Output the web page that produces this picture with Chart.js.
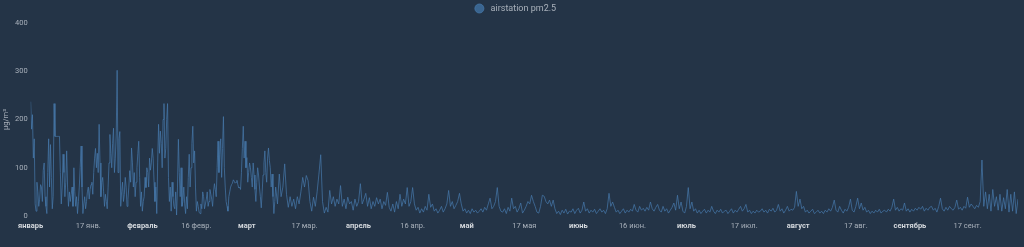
<!DOCTYPE html>
<html>
<head>
<meta charset="utf-8">
<script src="https://cdn.jsdelivr.net/npm/chart.js@4.4.1/dist/chart.umd.min.js"></script>
<style>
  html, body { margin: 0; padding: 0; background: #243447; }
  #wrap { width: 1024px; height: 247px; position: relative; }
  canvas { display: block; }
</style>
</head>
<body>
<div id="wrap"><canvas id="c" width="1024" height="247"></canvas></div>
<script>
const seriesName = 'airstation pm2.5';
const unitLabel = 'µg/m³';

// 1 Jan – 8 Mar (leap year): one reading every quarter day, starting at day 0
const denseStepDays = 0.25;
const pm25Winter = [
237,180,210,120,160,25,10,70,50,20,35,65,60,30,95,110,40,20,5,90,
160,60,148,80,15,40,233,165,165,165,165,165,165,90,25,60,128,90,40,70,
135,60,20,50,30,45,60,20,100,50,20,40,5,30,60,100,145,60,5,25,
40,15,30,50,60,35,55,65,70,45,90,120,140,100,130,90,190,110,40,70,
80,50,20,45,30,15,60,110,169,130,100,150,182,90,120,170,302,90,160,175,
20,50,70,30,45,80,60,20,35,60,94,70,141,110,60,90,40,70,100,130,
155,80,20,50,10,30,40,80,59,100,90,60,120,95,110,140,120,70,30,60,
5,110,190,130,176,150,100,200,233,120,140,200,233,80,30,60,10,70,40,20,
15,50,2,60,159,90,40,100,20,30,60,25,5,40,15,80,128,60,100,150,
186,110,135,60,10,30,20,8,5,25,15,50,40,15,25,35,50,20,30,55,
45,35,20,50,67,55,40,100,155,90,128,160,80,140,206,100,60,30,20,10,
40,50,60,65,68,75,72,68,70,74,65,58,60,55,90,140,186,120,155,100,
121,70,90,110,100,80,60,110,85,55,30,70,100,85,60,40,17,50,85,110,
135,90,70,120,141,115,100,60,87,40,5,30,60
];

// 8 Mar – 30 Sep: one reading every half day
const restStartDay = 68.5;
const restStepDays = 0.5;
const pm25Rest = [
25,87,40,
60,108,45,18,40,20,35,15,40,25,50,80,60,84,73,30,10,39,20,50,
87,127,30,6,18,8,53,25,40,20,35,25,63,20,35,15,39,25,30,12,
35,20,30,67,25,35,47,20,38,15,30,20,38,25,35,15,30,22,49,18,
10,25,8,30,15,45,20,35,25,59,20,30,59,25,12,18,6,15,8,20,
12,45,18,25,10,15,6,12,20,8,15,25,53,20,30,15,22,30,47,25,
10,15,6,12,5,15,8,12,6,10,15,8,18,12,25,37,15,20,30,59,
20,10,8,15,5,18,10,37,15,20,8,15,27,6,12,20,30,25,43,30,
20,8,6,20,43,41,30,25,33,20,33,15,5,10,3,12,6,14,4,10,
8,15,5,12,16,6,12,29,10,15,6,12,8,14,5,10,15,8,12,5,
15,47,20,29,18,8,12,5,10,15,6,12,8,14,10,24,12,8,20,12,
16,10,18,12,29,15,10,18,24,12,8,20,10,15,6,12,18,27,12,43,
15,29,10,6,20,59,15,29,10,15,6,12,5,10,14,6,12,8,20,10,
5,12,8,14,6,10,12,5,10,15,6,12,8,14,20,10,15,24,8,12,
5,10,6,12,8,10,15,8,12,6,14,10,16,8,12,24,10,15,6,12,
20,10,14,12,18,51,20,35,15,20,8,12,6,10,14,5,8,12,6,10,
5,12,8,15,10,18,33,12,8,20,12,6,14,10,18,35,12,8,20,37,
15,27,12,18,8,12,5,10,6,12,8,14,6,10,12,8,14,10,18,35,
12,18,10,15,12,27,10,15,8,14,10,16,12,18,14,20,10,16,12,18,
20,12,16,8,20,37,15,10,18,12,20,15,12,18,33,14,18,12,20,16,
39,18,25,20,15,22,18,30,116,20,50,15,45,10,55,20,40,12,45,10,
38,15,55,8,45,10,50,5,35
];

// Axis ticks (day of year, 0 = 1 January) and their labels
const tickDays   = [0, 16, 31, 46, 60, 76, 91, 106, 121, 137, 152, 167, 182, 198, 213, 229, 244, 260];
const tickLabels = ['январь','17 янв.','февраль','16 февр.','март','17 мар.','апрель','16 апр.','май','17 мая','июнь','16 июн.','июль','17 июл.','август','17 авг.','сентябрь','17 сент.'];
const tickMajor  = [true,false,true,false,true,false,true,false,true,false,true,false,true,false,true,false,true,false];
const yTicks = [0, 100, 200, 300, 400];

const points = pm25Winter.map((v, i) => ({ x: i * denseStepDays, y: v }))
  .concat(pm25Rest.map((v, i) => ({ x: restStartDay + i * restStepDays, y: v })));
const lastDay = restStartDay + (pm25Rest.length - 1) * restStepDays;

const bgPlugin = {
  id: 'bg',
  beforeDraw(chart) {
    const ctx = chart.ctx;
    ctx.save();
    ctx.fillStyle = '#243447';
    ctx.fillRect(0, 0, chart.width, chart.height);
    ctx.restore();
  }
};
const legendNudge = {
  id: 'legendNudge',
  afterLayout(chart) {
    if (chart.legend) { chart.legend.left += 6; chart.legend.right += 6; }
  }
};

new Chart(document.getElementById('c'), {
  type: 'line',
  data: {
    datasets: [{
      label: seriesName,
      data: points,
      borderColor: 'rgba(70,120,170,0.72)',
      backgroundColor: '#3a6590',
      borderWidth: 1,
      pointRadius: 0,
      tension: 0,
      fill: false
    }]
  },
  options: {
    responsive: false,
    animation: false,
    devicePixelRatio: 1,
    layout: { padding: { left: 1, right: 6, top: 0, bottom: 10 } },
    plugins: {
      legend: {
        display: true,
        position: 'top',
        labels: {
          usePointStyle: true,
          pointStyle: 'circle',
          boxWidth: 9,
          boxHeight: 6.4,
          padding: 4,
          color: '#a9b1bb',
          font: { family: 'Roboto, sans-serif', size: 9 },
          generateLabels(chart) {
            const items = Chart.defaults.plugins.legend.labels.generateLabels(chart);
            items.forEach(it => { it.text = ' ' + it.text; });
            return items;
          }
        }
      },
      tooltip: { enabled: false }
    },
    scales: {
      x: {
        type: 'linear',
        min: 0,
        max: lastDay,
        grid: { display: false, drawTicks: false },
        border: { display: false },
        afterBuildTicks(scale) {
          scale.ticks = tickDays.map((d, i) => ({ value: d, major: tickMajor[i] }));
        },
        ticks: {
          autoSkip: false,
          maxRotation: 0,
          padding: 6,
          callback(value, index) { return tickLabels[index]; },
          color(ctx) { return ctx.tick && ctx.tick.major ? '#d5d9de' : '#a9b1bb'; },
          font(ctx) {
            return { family: 'Roboto, sans-serif', size: 7.5, weight: ctx.tick && ctx.tick.major ? 'bold' : 'normal' };
          }
        }
      },
      y: {
        min: 0,
        max: 400,
        grid: { display: false, drawTicks: false },
        border: { display: false },
        afterBuildTicks(scale) {
          scale.ticks = yTicks.map(v => ({ value: v }));
        },
        ticks: {
          padding: 3,
          color: '#a9b1bb',
          font: { family: 'Roboto, sans-serif', size: 7.5 }
        },
        title: {
          display: true,
          text: unitLabel,
          color: '#a9b1bb',
          padding: 1,
          font: { family: 'Roboto, sans-serif', size: 7.5 }
        }
      }
    }
  },
  plugins: [bgPlugin, legendNudge]
});
</script>
</body>
</html>
